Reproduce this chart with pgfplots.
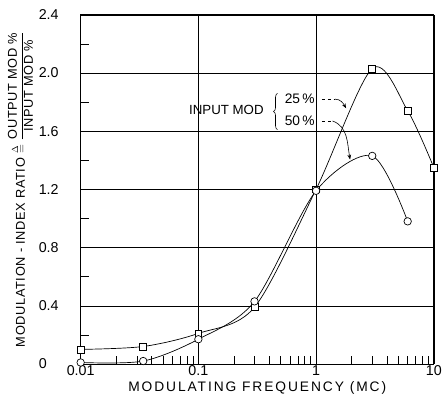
\documentclass[border=0pt]{standalone}
\usepackage{pgfplots}
\pgfplotsset{compat=1.18}
\usepackage{amsmath,amssymb}
\usepackage{fontspec}
\setmainfont{Liberation Sans}
\usetikzlibrary{arrows.meta,decorations.pathreplacing}
\begin{document}
\begin{tikzpicture}
\begin{axis}[
  scale only axis, width=359pt, height=355pt,
  xmode=log, xmin=0.01, xmax=10, ymin=0, ymax=2.4,
  xtick={0.01,0.1,1,10}, xticklabels={0.01,0.1,1,10},
  ytick={0,0.4,0.8,1.2,1.6,2.0,2.4},
  yticklabels={0,0.4,0.8,1.2,1.6,2.0,2.4},
  minor ytick={0.2,0.6,1.0,1.4,1.8,2.2},
  xmajorgrids, ymajorgrids,
  grid style={black, line width=0.5pt},
  axis line style={line width=0.8pt},
  tick align=inside, xtick pos=bottom, ytick pos=left,
  major tick length=0pt,
  minor tick length=8pt,
  minor x tick style={black, line width=0.4pt},
  minor y tick style={black, line width=0.6pt},
  /pgf/number format/assume math mode=true,
  tick label style={font=\fontsize{14.5}{16}\selectfont},
  yticklabel style={text width=38pt, align=left, xshift=-1pt},
  xticklabel style={yshift=2pt},
  xlabel={MODULATING FREQUENCY (MC)},
  xlabel style={font=\fontsize{14}{16}\selectfont\addfontfeature{LetterSpace=14}, yshift=1pt},
  ylabel={MODULATION - INDEX RATIO $\overset{\Delta}{=}$ $\dfrac{\text{OUTPUT MOD \%}}{\text{INPUT MOD \%}}$},
  ylabel style={font=\fontsize{13}{15}\selectfont\addfontfeature{LetterSpace=5}, yshift=-1pt},
  clip=false,
]
\addplot[black, line width=0.7pt, smooth, tension=0.5, mark=square*, mark size=3.5pt, mark options={fill=white, line width=0.7pt}]
  coordinates {(0.01,0.10) (0.034,0.12) (0.1,0.21) (0.3,0.39) (1,1.20) (3,2.03) (6,1.74) (10,1.35)};
\addplot[black, line width=0.7pt, smooth, tension=0.5, mark=*, mark size=3.8pt, mark options={fill=white, line width=0.7pt}]
  coordinates {(0.01,0.01) (0.034,0.02) (0.1,0.17) (0.3,0.43) (1,1.19) (3,1.43) (6,0.98)};
\node[font=\fontsize{13.5}{15}\selectfont, anchor=west] at (axis cs:0.078,1.743) {INPUT MOD};
\draw[decorate, decoration={brace, amplitude=4pt}, line width=0.6pt] (axis cs:0.47,1.61) -- (axis cs:0.47,1.86);
\node[font=\fontsize{14}{16}\selectfont, anchor=west, inner sep=1pt] at (axis cs:0.53,1.82) {25\,\%};
\node[font=\fontsize{14}{16}\selectfont, anchor=west, inner sep=1pt] at (axis cs:0.53,1.67) {50\,\%};
\draw[dashed, line width=0.6pt] (axis cs:1.12,1.82) -- (axis cs:1.45,1.82);
\draw[line width=0.6pt, -{Stealth[length=5pt]}] (axis cs:1.45,1.82) to[out=0,in=120] (axis cs:1.80,1.757);
\draw[dashed, line width=0.6pt] (axis cs:1.12,1.67) -- (axis cs:1.38,1.67);
\draw[line width=0.6pt, -{Stealth[length=5pt]}] (axis cs:1.38,1.67) to[out=-20,in=100] (axis cs:1.945,1.405);
\path (rel axis cs:0,1) ++(-82pt,15pt);
\end{axis}
\end{tikzpicture}
\end{document}
